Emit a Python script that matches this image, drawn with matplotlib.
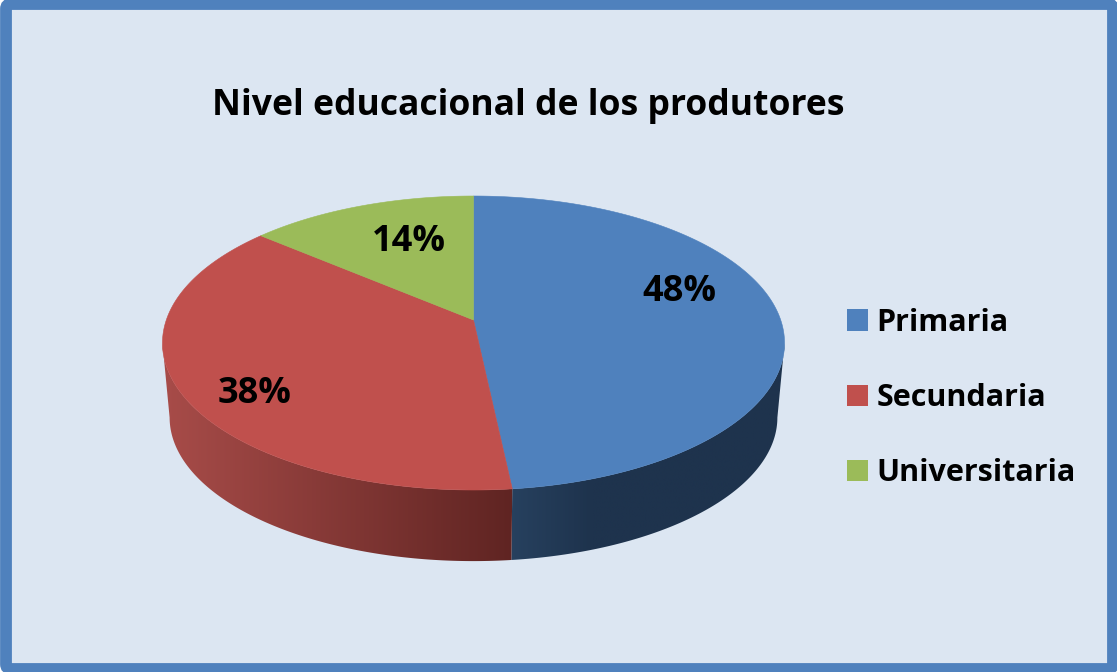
import numpy as np
import matplotlib
matplotlib.use("Agg")
import matplotlib.pyplot as plt
from matplotlib.colors import LinearSegmentedColormap
from matplotlib.patches import FancyBboxPatch, Polygon, Rectangle

title = "Nivel educacional de los produtores"
categories = ["Primaria", "Secundaria", "Universitaria"]
shares = [48.3, 37.9, 13.8]

colors = ["#4F81BD", "#C0504D", "#9BBB59"]
label_xy = [(679, 292), (255, 394), (409, 242)]

FONT = "Open Sans"
W, H = 1117, 672

# Perspective of the disc, in pixels
CX, CY = 473.5, 320
RX, RY, K = 307.2, 143.4, 0.1565
SCALE_BOTTOM, DROP = 0.977, 75


def top_rim(a):
    """Angle clockwise from 12 o'clock -> point on the top rim."""
    x, y = np.sin(a), np.cos(a)
    d = 1 + K * y
    return CX + RX * x / d, CY - RY * y / d


def bottom_rim(a):
    x, y = top_rim(a)
    return CX + SCALE_BOTTOM * (x - CX), CY + DROP + SCALE_BOTTOM * (y - CY)


def side_poly(a0, a1):
    a = np.linspace(a0, a1, 300)
    tx, ty = top_rim(a)
    bx, by = bottom_rim(a)
    return np.r_[np.c_[tx, ty], np.c_[bx, by][::-1]]


def shaded_side(ax, poly, x0, x1, stops):
    cmap = LinearSegmentedColormap.from_list("side", stops)
    im = ax.imshow(np.linspace(0, 1, 256)[None, :], cmap=cmap, extent=(x0, x1, 600, 300),
                   aspect="auto", zorder=2, interpolation="bilinear")
    clip = Polygon(poly, closed=True, transform=ax.transData, fc="none", ec="none")
    ax.add_patch(clip)
    im.set_clip_path(clip)


fig = plt.figure(figsize=(W / 100, H / 100), dpi=100, facecolor="white")
ax = fig.add_axes([0, 0, 1, 1])
ax.axis("off")

# Frame
ax.add_patch(FancyBboxPatch((6, 4), 1107, 665, boxstyle="round,pad=0,rounding_size=5",
                            fc="#DCE6F2", ec="#4F81BD", lw=8.5, zorder=1))

# Slice boundaries, clockwise from the top
edges = np.r_[0, np.cumsum(shares)] / sum(shares) * 2 * np.pi
grid = np.linspace(0, 2 * np.pi, 2000)
right = grid[np.argmax(top_rim(grid)[0])]
left = grid[np.argmin(top_rim(grid)[0])]
split_x = bottom_rim(edges[1])[0]

# Rim: only the two front slices show it
shaded_side(ax, side_poly(right, edges[1]), split_x - 2, 785,
            [(0, "#27415F"), (0.3, "#1E334D"), (1, "#1E334D")])
shaded_side(ax, side_poly(edges[1], left), 162, split_x + 2,
            [(0, "#A84C49"), (1, "#5F2422")])

# Top faces
for a0, a1, c in zip(edges[:-1], edges[1:], colors):
    a = np.linspace(a0, a1, 300)
    x, y = top_rim(a)
    pts = np.r_[[[CX, CY]], np.c_[x, y]]
    ax.add_patch(Polygon(pts, closed=True, fc=c, ec=c, lw=0.4, zorder=3))

for share, (x, y) in zip(shares, label_xy):
    ax.text(x, y, f"{share:.0f}%", ha="center", va="center", fontsize=26, family=FONT,
            fontweight="bold", color="black", zorder=4)

ax.text(528.5, 106, title, ha="center", va="center", fontsize=25.6, family=FONT,
        fontweight="bold", color="black", zorder=4)

handles = [Rectangle((0, 0), 1, 1, fc=c, ec="none") for c in colors]
ax.legend(handles, categories, loc="center left", bbox_to_anchor=(847 / W, 1 - 398 / H),
          frameon=False, prop={"family": FONT, "weight": "bold", "size": 22},
          handlelength=0.69, handleheight=0.69, handletextpad=0.27,
          labelspacing=1.48, borderpad=0, borderaxespad=0)

ax.set_xlim(0, W)
ax.set_ylim(H, 0)
fig.savefig("out.png", dpi=100, facecolor=fig.get_facecolor())
